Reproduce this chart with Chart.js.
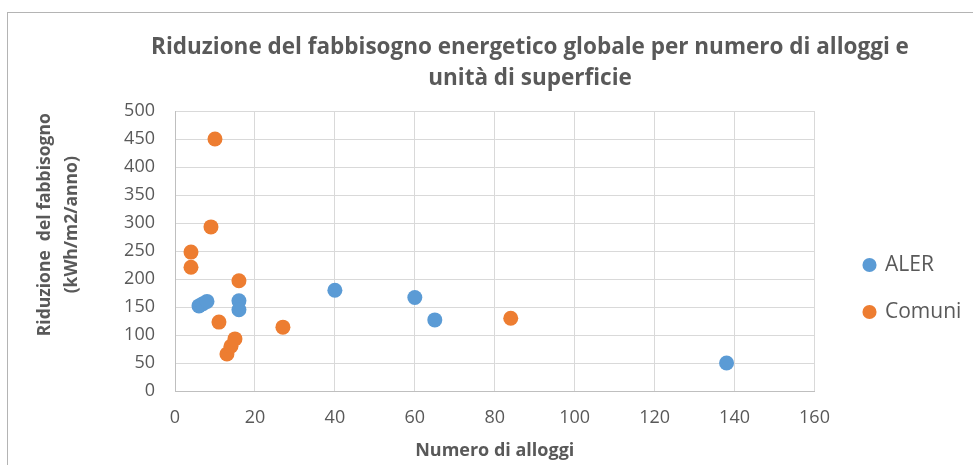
<!DOCTYPE html>
<html>
<head>
<meta charset="utf-8">
<script src="https://cdn.jsdelivr.net/npm/chart.js@4/dist/chart.umd.min.js"></script>
<style>
  html, body { margin: 0; padding: 0; overflow: hidden; background: #ffffff; width: 973px; height: 465px; }
  #frame { position: absolute; left: 7px; top: 12px; width: 1200px; height: 600px; border: 1px solid #b4b4b4; box-sizing: border-box; }
  #c { position: absolute; left: 0; top: 0; }
</style>
</head>
<body>
<div id="frame"></div>
<canvas id="c" width="1060" height="465"></canvas>
<script>
// ---- data ----
const titleLines = ["Riduzione del fabbisogno energetico globale per numero di alloggi e", "unità di superficie"];
const xAxisTitle = "Numero di alloggi";
const yAxisTitle = ["Riduzione  del fabbisogno", "(kWh/m2/anno)"];
const seriesNames = ["ALER", "Comuni"];

const alerX = [6, 7, 8, 16, 16, 40, 60, 65, 138];
const alerY = [152, 156, 160, 161, 145, 180, 167, 127, 50];

const comuniX = [4, 4, 9, 10, 11, 13, 14, 15, 16, 27, 84];
const comuniY = [248, 221, 293, 450, 123, 66, 80, 93, 197, 114, 130];

const xTicks = [0, 20, 40, 60, 80, 100, 120, 140, 160];
const yTicks = [0, 50, 100, 150, 200, 250, 300, 350, 400, 450, 500];

// ---- styling ----
const FONT = "'Open Sans', Lato, 'Liberation Sans', sans-serif";
const TXT = "#595959";
const GRID = "#d9d9d9";
const AXIS = "#bfbfbf";
const C_ALER = "#5B9BD5";
const C_COM = "#ED7D31";

const toPts = (xs, ys) => xs.map((x, i) => ({ x: x, y: ys[i] }));
const spaceLead = "\u2003\u2003\u2003";

new Chart(document.getElementById("c"), {
  type: "scatter",
  data: {
    datasets: [
      { label: seriesNames[0], data: toPts(alerX, alerY), backgroundColor: C_ALER, borderWidth: 0, pointRadius: 7.5, pointHoverRadius: 7.5 },
      { label: seriesNames[1], data: toPts(comuniX, comuniY), backgroundColor: C_COM, borderWidth: 0, pointRadius: 7.5, pointHoverRadius: 7.5 }
    ]
  },
  options: {
    responsive: false,
    animation: false,
    devicePixelRatio: 1,
    layout: { padding: 0 },
    plugins: {
      tooltip: { enabled: false },
      title: {
        display: true,
        text: titleLines,
        color: TXT,
        font: { family: FONT, size: 22.5, weight: "bold", lineHeight: 31 / 22.5 },
        padding: { top: 32.5, bottom: 16.5 }
      },
      legend: {
        display: true,
        position: "right",
        align: "center",
        fullSize: false,
        title: { display: true, text: "", font: { size: 10, lineHeight: 1 }, padding: { top: 65, bottom: 0 } },
        labels: {
          usePointStyle: true,
          pointStyle: "circle",
          boxWidth: 10,
          boxHeight: 10,
          padding: 26,
          color: TXT,
          font: { family: FONT, size: 21 }
        }
      }
    },
    scales: {
      x: {
        type: "linear",
        position: "bottom",
        min: xTicks[0],
        max: xTicks[xTicks.length - 1],
        afterBuildTicks: (s) => { s.ticks = xTicks.map(v => ({ value: v })); },
        afterFit: (s) => { s.height = 74; },
        grid: { color: GRID, lineWidth: 1, drawTicks: false },
        border: { display: true, color: AXIS, width: 1 },
        ticks: { color: TXT, font: { family: FONT, size: 18 }, padding: 16, maxRotation: 0 },
        title: {
          display: true,
          text: xAxisTitle,
          color: TXT,
          font: { family: FONT, size: 18, weight: "bold", lineHeight: 1.2 },
          padding: { top: 0, bottom: 3 }
        }
      },
      y: {
        type: "linear",
        position: "left",
        min: yTicks[0],
        max: yTicks[yTicks.length - 1],
        afterBuildTicks: (s) => { s.ticks = yTicks.map(v => ({ value: v })); },
        afterFit: (s) => { s.width = 175; },
        grid: { color: GRID, lineWidth: 1, drawTicks: false },
        border: { display: true, color: AXIS, width: 1 },
        ticks: { color: TXT, font: { family: FONT, size: 18 }, padding: 20 },
        title: {
          display: true,
          text: yAxisTitle.map(t => spaceLead + t),
          color: TXT,
          font: { family: FONT, size: 17.5, weight: "bold", lineHeight: 27 / 17.5 },
          padding: { top: 31.5, bottom: 0 }
        }
      },
      gap: {
        type: "linear",
        position: "right",
        weight: 0,
        display: true,
        grid: { display: false, drawTicks: false },
        border: { display: false },
        ticks: { display: false },
        afterFit: (s) => { s.width = 24; }
      },
      edge: {
        type: "linear",
        position: "right",
        weight: 3000,
        display: true,
        grid: { display: false, drawTicks: false },
        border: { display: false },
        ticks: { display: false },
        afterFit: (s) => { s.width = 89; }
      }
    }
  }
});
</script>
</body>
</html>
